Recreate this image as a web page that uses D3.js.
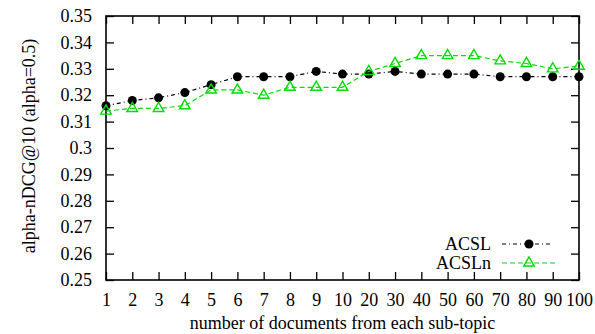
<html>
<head>
<title>alpha-nDCG chart</title>
<script src="https://cdn.jsdelivr.net/npm/d3@7"></script>
<style>
body { margin: 0; background: white; }
text { font-family: "Liberation Serif", "Times New Roman", serif; font-size: 18px; fill: black; }
</style>
</head>
<body>
<svg id="chart"></svg>
<script>
// data
var docs = ["1","2","3","4","5","6","7","8","9","10","20","30","40","50","60","70","80","90","100"];
var acsl  = [0.316,0.318,0.319,0.321,0.324,0.327,0.327,0.327,0.329,0.328,0.328,0.329,0.328,0.328,0.328,0.327,0.327,0.327,0.327];
var acsln = [0.314,0.315,0.315,0.316,0.322,0.322,0.320,0.323,0.323,0.323,0.329,0.332,0.335,0.335,0.335,0.333,0.332,0.330,0.331];
var y_ticks = [0.25,0.26,0.27,0.28,0.29,0.30,0.31,0.32,0.33,0.34,0.35];
var series_names = ["ACSL", "ACSLn"];

var svg_width = 595, svg_height = 334;
var plot_left = 106, plot_right = 579, plot_top = 16, plot_bottom = 280;

var svg = d3.select("#chart").attr("width", svg_width).attr("height", svg_height);

var x = d3.scalePoint().domain(docs).range([plot_left, plot_right]).padding(0);
var y = d3.scaleLinear().domain([0.25, 0.35]).range([plot_bottom, plot_top]);

// axes, ticks point inward
var fmt = function(d) { return d == 0.3 ? "0.3" : d3.format(".2f")(d); };

svg.append("g").attr("transform", "translate(0," + plot_bottom + ")")
  .call(d3.axisBottom(x).tickSizeInner(-8).tickSizeOuter(0).tickPadding(13))
  .call(function(g) { g.select(".domain").remove(); });

svg.append("g").attr("transform", "translate(0," + plot_top + ")")
  .call(d3.axisTop(x).tickSizeInner(-8).tickSizeOuter(0).tickFormat(""))
  .call(function(g) { g.select(".domain").remove(); });

svg.append("g").attr("transform", "translate(" + plot_left + ",0)")
  .call(d3.axisLeft(y).tickValues(y_ticks).tickFormat(fmt).tickSizeInner(-8).tickSizeOuter(0).tickPadding(14))
  .call(function(g) { g.select(".domain").remove(); });

svg.append("g").attr("transform", "translate(" + plot_right + ",0)")
  .call(d3.axisRight(y).tickValues(y_ticks).tickFormat("").tickSizeInner(-8).tickSizeOuter(0))
  .call(function(g) { g.select(".domain").remove(); });

svg.selectAll(".tick line").attr("stroke", "black").attr("stroke-width", 1.3);

// frame
svg.append("rect").attr("x", plot_left).attr("y", plot_top)
  .attr("width", plot_right - plot_left).attr("height", plot_bottom - plot_top)
  .attr("fill", "none").attr("stroke", "black").attr("stroke-width", 1.6);

// axis titles
svg.append("text").attr("x", (plot_left + plot_right) / 2).attr("y", 329)
  .attr("text-anchor", "middle").text("number of documents from each sub-topic");
svg.append("g").attr("transform", "translate(35 146) rotate(-90)")
  .append("text").attr("text-anchor", "middle").text("alpha-nDCG@10 (alpha=0.5)");

// series
var green = "#00dd00";
var line = d3.line().x(function(d, i) { return x(docs[i]); }).y(function(d) { return y(d); });
var tri = d3.symbol().type(d3.symbolTriangle).size(48);

svg.append("path").datum(acsl).attr("d", line)
  .attr("fill", "none").attr("stroke", "black").attr("stroke-width", 1.2)
  .attr("stroke-dasharray", "4,3,1,3");
svg.append("g").selectAll("circle").data(acsl).enter()
  .append("circle").attr("cx", function(d, i) { return x(docs[i]); })
  .attr("cy", function(d) { return y(d); }).attr("r", 4.5).attr("fill", "black");

svg.append("path").datum(acsln).attr("d", line)
  .attr("fill", "none").attr("stroke", green).attr("stroke-width", 1.2)
  .attr("stroke-dasharray", "5,3");
svg.append("g").selectAll("path").data(acsln).enter()
  .append("path").attr("d", tri)
  .attr("transform", function(d, i) { return "translate(" + x(docs[i]) + "," + y(d) + ")"; })
  .attr("fill", "none").attr("stroke", green).attr("stroke-width", 1.4);

// legend
var leg = svg.append("g");
var leg_y = [244, 263];
leg.selectAll("text").data(series_names).enter()
  .append("text").attr("x", 491).attr("y", function(d, i) { return leg_y[i] + 6; })
  .attr("text-anchor", "end").text(function(d) { return d; });

leg.append("line").attr("x1", 502).attr("x2", 553).attr("y1", leg_y[0]).attr("y2", leg_y[0])
  .attr("stroke", "black").attr("stroke-width", 1.2).attr("stroke-dasharray", "4,3,1,3");
leg.append("circle").attr("cx", 529).attr("cy", leg_y[0]).attr("r", 4.5).attr("fill", "black");

leg.append("line").attr("x1", 502).attr("x2", 556).attr("y1", leg_y[1]).attr("y2", leg_y[1])
  .attr("stroke", green).attr("stroke-width", 1.2).attr("stroke-dasharray", "5,3");
leg.append("path").attr("d", tri).attr("transform", "translate(529," + leg_y[1] + ")")
  .attr("fill", "none").attr("stroke", green).attr("stroke-width", 1.4);
</script>
</body>
</html>
